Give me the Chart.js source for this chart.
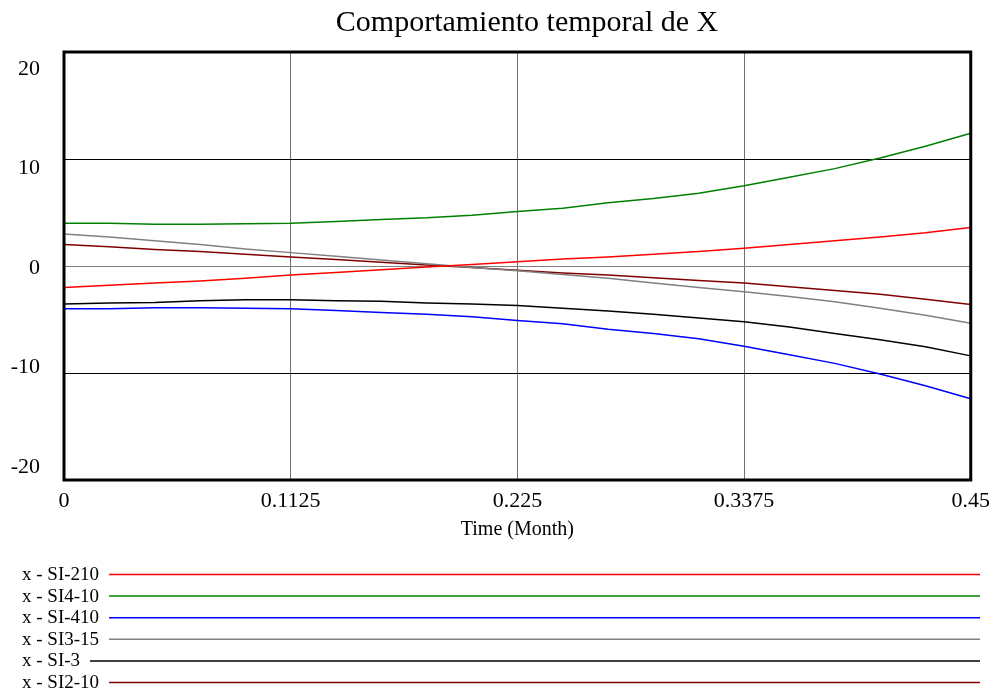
<!DOCTYPE html>
<html>
<head>
<meta charset="utf-8">
<title>Comportamiento temporal de X</title>
<script src="https://cdn.jsdelivr.net/npm/chart.js@4.4.1/dist/chart.umd.min.js"></script>
<style>
  html, body { margin: 0; padding: 0; background: #fff; }
  #wrap { width: 998px; height: 698px; }
</style>
</head>
<body>
<div id="wrap"><canvas id="xChart" width="998" height="698"></canvas></div>
<script>
// time in months
const time = [0, 0.0225, 0.045, 0.0675, 0.09, 0.1125, 0.135, 0.1575, 0.18, 0.2025,
  0.225, 0.2475, 0.27, 0.2925, 0.315, 0.3375, 0.36, 0.3825, 0.405, 0.4275, 0.45];

const si210 = [-2.0, -1.8, -1.6, -1.4, -1.15, -0.85, -0.6, -0.35, -0.1, 0.15,
  0.4, 0.65, 0.85, 1.1, 1.35, 1.65, 2.0, 2.35, 2.7, 3.1, 3.6];
const si410pos = [4.0, 4.0, 3.9, 3.9, 3.95, 4.0, 4.15, 4.35, 4.5, 4.75,
  5.1, 5.4, 5.9, 6.3, 6.8, 7.5, 8.3, 9.1, 10.1, 11.2, 12.4];
const si410 = [-4.0, -4.0, -3.9, -3.9, -3.95, -4.0, -4.15, -4.35, -4.5, -4.75,
  -5.1, -5.4, -5.9, -6.3, -6.8, -7.5, -8.3, -9.1, -10.1, -11.2, -12.4];
const si315 = [3.0, 2.7, 2.35, 2.0, 1.6, 1.25, 0.9, 0.55, 0.2, -0.15,
  -0.45, -0.8, -1.15, -1.6, -2.0, -2.4, -2.85, -3.35, -3.95, -4.6, -5.35];
const si3 = [-3.55, -3.45, -3.4, -3.25, -3.15, -3.15, -3.25, -3.3, -3.45, -3.55,
  -3.7, -3.95, -4.2, -4.5, -4.85, -5.2, -5.7, -6.3, -6.9, -7.55, -8.4];
const si210b = [2.0, 1.8, 1.55, 1.35, 1.1, 0.85, 0.6, 0.35, 0.1, -0.15,
  -0.4, -0.65, -0.85, -1.1, -1.35, -1.6, -1.95, -2.3, -2.65, -3.1, -3.6];

const seriesNames = ["x - SI-210", "x - SI4-10", "x - SI-410", "x - SI3-15", "x - SI-3", "x - SI2-10"];
const seriesValues = [si210, si410pos, si410, si315, si3, si210b];
const seriesColors = ["#ff0000", "#008000", "#0000ff", "#808080", "#000000", "#800000"];

const yTicks = [-20, -10, 0, 10, 20];
const xTicks = [0, 0.1125, 0.225, 0.3375, 0.45];
const chartTitle = "Comportamiento temporal de X";

const serif = "'Liberation Serif', 'Times New Roman', serif";
Chart.defaults.font.family = serif;
Chart.defaults.color = "#000";

const datasets = seriesNames.map((name, i) => ({
  label: name,
  data: time.map((t, j) => ({ x: t, y: seriesValues[i][j] })),
  borderColor: seriesColors[i],
  backgroundColor: seriesColors[i],
  borderWidth: 1.5,
  pointRadius: 0,
  tension: 0,
  fill: false,
}));

// title, centred a bit right of the plot like the original
const titlePlugin = {
  id: "titlePlugin",
  afterDraw(chart) {
    const { ctx } = chart;
    ctx.save();
    ctx.font = "30px " + serif;
    ctx.fillStyle = "#000";
    ctx.textAlign = "center";
    ctx.textBaseline = "middle";
    ctx.fillText(chartTitle, 527, 23);
    ctx.restore();
  },
};

// y labels: Vensim spreads them evenly inside the frame (ends pulled in)
const yLabels = {
  id: "yLabels",
  afterDraw(chart) {
    const { ctx, chartArea: a, scales } = chart;
    const s = scales.y;
    ctx.save();
    ctx.font = "22px " + serif;
    ctx.fillStyle = "#000";
    ctx.textAlign = "right";
    ctx.textBaseline = "middle";
    yTicks.forEach((v) => {
      const f = (s.max - v) / (s.max - s.min);
      const y = a.top + 15 + f * (a.bottom - a.top - 30);
      ctx.fillText(String(v), a.left - 24, y + 2);
    });
    ctx.restore();
  },
};

// thick frame around the plot
const frame = {
  id: "frame",
  afterDatasetsDraw(chart) {
    const { ctx, chartArea: a } = chart;
    ctx.save();
    ctx.strokeStyle = "#000";
    ctx.lineWidth = 3;
    ctx.strokeRect(a.left, a.top, a.right - a.left, a.bottom - a.top);
    ctx.restore();
  },
};

// legend as rows of label + long line underneath the chart
const rowLegend = {
  id: "rowLegend",
  afterDraw(chart) {
    const { ctx } = chart;
    ctx.save();
    ctx.font = "19px " + serif;
    ctx.textBaseline = "middle";
    chart.data.datasets.forEach((ds, i) => {
      const y = 574 + i * 21.6;
      ctx.fillStyle = "#000";
      ctx.textAlign = "left";
      ctx.fillText(ds.label, 22, y + 1);
      const w = ctx.measureText(ds.label).width;
      ctx.strokeStyle = ds.borderColor;
      ctx.lineWidth = 1.5;
      ctx.beginPath();
      ctx.moveTo(22 + w + 10, y + 0.5);
      ctx.lineTo(980, y + 0.5);
      ctx.stroke();
    });
    ctx.restore();
  },
};

new Chart(document.getElementById("xChart"), {
  type: "line",
  data: { datasets },
  options: {
    responsive: false,
    animation: false,
    layout: { padding: { left: 64, right: 25, top: 52, bottom: 148 } },
    plugins: {
      legend: { display: false },
      tooltip: { enabled: false },
      title: { display: false },
    },
    scales: {
      x: {
        type: "linear",
        min: 0,
        max: 0.45,
        afterBuildTicks: (scale) => { scale.ticks = xTicks.map((v) => ({ value: v })); },
        afterFit: (scale) => { scale.height = 70; },
        ticks: {
          color: "#000",
          font: { size: 22, family: serif },
          padding: 8,
          maxRotation: 0,
          autoSkip: false,
          callback: (v) => String(v),
        },
        grid: { color: "#707070", lineWidth: 1, drawTicks: false },
        border: { display: false },
        title: {
          display: true,
          text: "Time (Month)",
          color: "#000",
          font: { size: 20, family: serif },
          padding: { top: 0, bottom: 8 },
        },
      },
      y: {
        min: -20,
        max: 20,
        afterBuildTicks: (scale) => { scale.ticks = yTicks.map((v) => ({ value: v })); },
        ticks: { display: false },
        grid: {
          color: (c) => (c.tick && c.tick.value === 0 ? "#808080" : "#000"),
          lineWidth: 1,
          drawTicks: false,
        },
        border: { display: false },
      },
    },
  },
  plugins: [titlePlugin, yLabels, frame, rowLegend],
});
</script>
</body>
</html>
